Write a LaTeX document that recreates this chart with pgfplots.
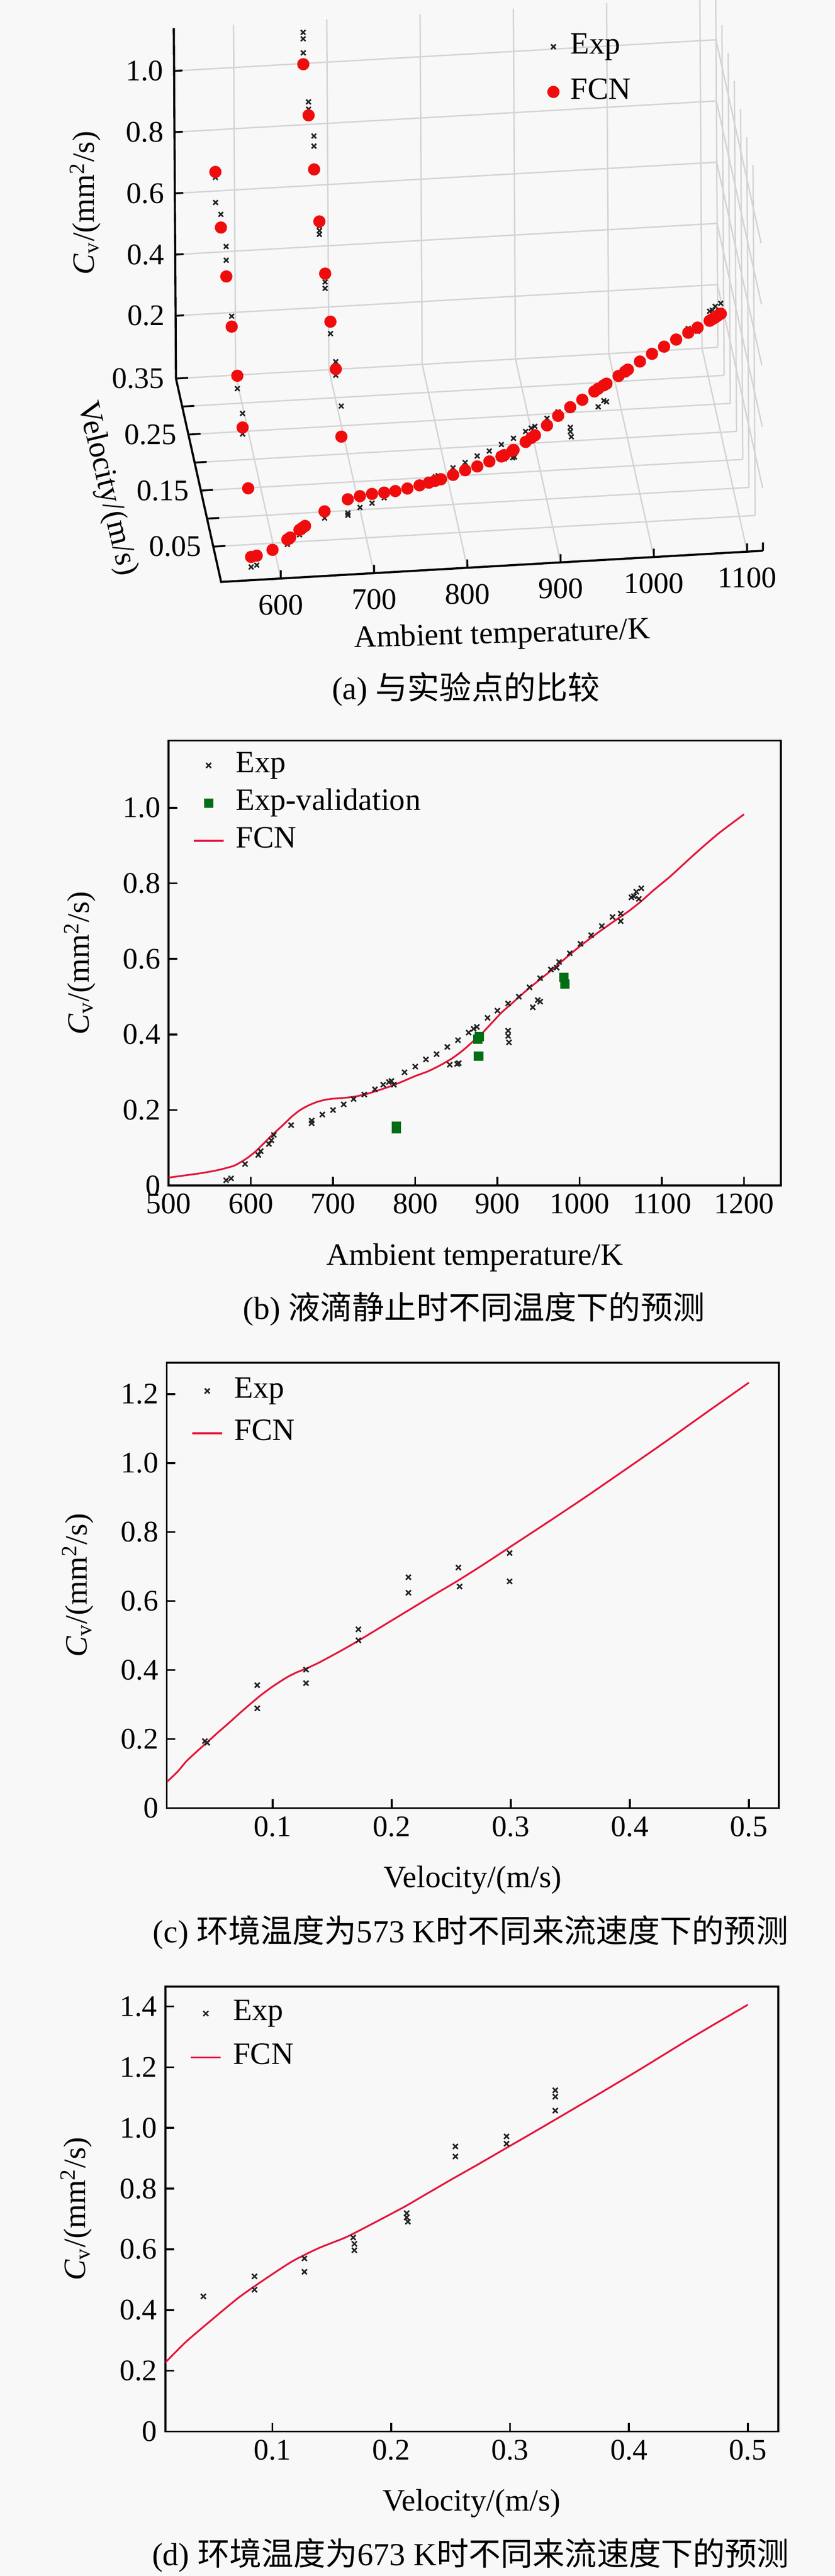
\documentclass[border=0pt]{standalone}
\usepackage{fontspec}
\setmainfont{Liberation Serif}
\newfontfamily\cjk{Noto Sans CJK SC}
\usepackage{pgfplots}
\pgfplotsset{compat=1.18}
\definecolor{fcnred}{RGB}{228,22,60}
\definecolor{dotred}{RGB}{240,12,12}
\definecolor{valgreen}{RGB}{0,110,20}
\definecolor{bg}{RGB}{248,248,248}
\definecolor{expgray}{RGB}{35,35,35}

\pgfplotsset{
  flat/.style={
    scale only axis, anchor=south west,
    axis line style={line width=0.8pt},
    tick style={line width=0.8pt, black},
    major tick length=3.7pt,
    tick align=inside, tick pos=left,
    /pgf/number format/assume math mode=true,
    /pgf/number format/1000 sep={},
    ticklabel style={font=\fontsize{12.7}{14}\selectfont},
    label style={font=\fontsize{13.2}{15}\selectfont},
    xlabel style={at={(axis description cs:0.5,-0.162)}, anchor=center},
    ylabel style={at={(axis description cs:-0.145,0.5)}, anchor=center},
    ylabel={\textit{C}\textsubscript{v}/(mm\textsuperscript{2}/s)},
    legend cell align=left,
    legend image code/.code={\path (0pt,0pt) (17pt,0pt);\draw[mark repeat=2,mark phase=2,##1] plot coordinates {(0pt,0pt) (8.5pt,0pt) (17pt,0pt)};},
  },
  leg/.style n args={3}{legend style={draw=none, fill=none, inner sep=0pt, outer sep=0pt,
    at={(axis description cs:#1,#2)}, anchor=north west,
    font=\fontsize{13.2}{15}\selectfont,
    nodes={inner sep=0pt, text height=9pt, text depth=3pt},
    cells={anchor=west},
    row sep=#3,
    /tikz/every odd column/.append style={column sep=2.7pt}}},
  expx/.style={only marks, mark=x, mark size=1.5pt, expgray, mark options={line width=0.65pt}},
  fcnline/.style={fcnred, line width=0.75pt, smooth, tension=0.4,
    legend image code/.code={\path (0pt,0pt) (17pt,0pt);\draw[##1] (2.15pt,0pt) -- (14.85pt,0pt);}},
}
\tikzset{tk/.style={black, line width=0.8pt}, tl/.style={font=\fontsize{12.7}{14}\selectfont, inner sep=0pt}}

\begin{document}
\begin{tikzpicture}
\useasboundingbox (0,0) rectangle (354.4pt,1094.2pt);
\fill[bg] (0,0) rectangle (354.4pt,1094.2pt);

% ---------------- (a) 3D ----------------
\begin{axis}[
  at={(73.8pt,847pt)}, anchor=south west, clip=false,
  x={(0.396pt,0.0228pt)}, y={(-52.8pt,238pt)}, z={(-0.8pt,130pt)},
  xmin=536, xmax=1117, ymin=-0.013, ymax=0.35, zmin=-0.005, zmax=1.14,
  xtick={600,700,800,900,1000,1100},
  ytick={0.05,0.1,0.15,0.2,0.25,0.3,0.35},
  ztick={0.2,0.4,0.6,0.8,1.0},
  xmajorticks=false, ymajorticks=false, zmajorticks=false,
  grid=major, major grid style={line width=0.6pt, color=black!17},
  axis line style={draw=none},
  legend cell align=left,
  legend image code/.code={\path (0pt,0pt) (11pt,0pt);\draw[mark repeat=2,mark phase=2,#1] plot coordinates {(0pt,0pt) (5.5pt,0pt) (11pt,0pt)};},
  legend style={draw=none, fill=none, inner sep=0pt, outer sep=0pt,
    at={(axis description cs:0.6215,0.939)}, anchor=north west,
    font=\fontsize{13.2}{15}\selectfont,
    nodes={inner sep=0pt, text height=9pt, text depth=3pt},
    cells={anchor=west}, row sep=7.2pt,
    /tikz/every odd column/.append style={column sep=1.5pt}},
]
\addplot3[expx, mark size=1.4pt] coordinates {
(570,0,0.014) (576,0,0.019) (593,0,0.057) (609,0,0.081) (612,0,0.091) (622,0,0.110) (625,0,0.120) (628,0,0.134)
(649,0,0.160) (674,0,0.172) (674,0,0.165) (687,0,0.188) (700,0,0.200) (713,0,0.215) (725,0,0.229) (738,0,0.241)
(751,0,0.255) (761,0,0.267) (768,0,0.274) (771,0,0.277) (774,0,0.267) (787,0,0.300) (800,0,0.315) (813,0,0.334)
(826,0,0.348) (839,0,0.367) (852,0,0.385) (842,0,0.320) (851,0,0.322) (853,0,0.324) (865,0,0.405) (871,0,0.415)
(875,0,0.420) (888,0,0.444) (900,0,0.463) (913,0,0.482) (913,0,0.410) (913,0,0.396) (914,0,0.379) (926,0,0.500)
(939,0,0.525) (943,0,0.472) (949,0,0.491) (952,0,0.487) (952,0,0.549) (965,0,0.572) (972,0,0.577) (975,0,0.592)
(988,0,0.615) (1001,0,0.640) (1014,0,0.663) (1027,0,0.687) (1040,0,0.711) (1050,0,0.720) (1050,0,0.700)
(1063,0,0.763) (1066,0,0.766) (1069,0,0.778) (1075,0,0.787) (1072,0,0.759)
(573,0.043,0.194) (573,0.045,0.189) (573,0.087,0.356) (573,0.087,0.289) (573,0.128,0.401) (573,0.128,0.362)
(573,0.172,0.518) (573,0.172,0.486) (573,0.214,0.669) (573,0.214,0.624) (573,0.256,0.697) (573,0.257,0.642)
(573,0.299,0.739) (573,0.299,0.657)
(673,0.042,0.445) (673,0.085,0.511) (673,0.085,0.467) (673,0.127,0.570) (673,0.127,0.526) (673,0.168,0.639)
(673,0.169,0.618) (673,0.169,0.597) (673,0.213,0.719) (673,0.213,0.705) (673,0.214,0.691) (673,0.254,0.939)
(673,0.254,0.906) (673,0.297,0.972) (673,0.297,0.948) (673,0.338,1.124) (673,0.338,1.103) (673,0.338,1.057)
};
\addlegendentry{Exp}
\addplot3[only marks, mark=*, mark size=2.4pt, dotred, mark options={draw=dotred, fill=dotred}] coordinates {
(570,0,0.047) (576,0,0.050) (593,0,0.066) (609,0,0.097) (612,0,0.103) (622,0,0.126) (625,0,0.132) (628,0,0.138)
(649,0,0.182) (674,0,0.217) (687,0,0.225) (700,0,0.230) (713,0,0.232) (725,0,0.235) (738,0,0.241) (751,0,0.249)
(761,0,0.256) (768,0,0.261) (774,0,0.265) (787,0,0.277) (800,0,0.290) (813,0,0.300) (826,0,0.314) (839,0,0.328)
(842,0,0.332) (851,0,0.345) (852,0,0.347) (865,0,0.371) (871,0,0.383) (875,0,0.391) (888,0,0.421) (900,0,0.450)
(913,0,0.476) (926,0,0.498) (939,0,0.523) (943,0,0.531) (949,0,0.541) (952,0,0.546) (965,0,0.569) (972,0,0.582)
(975,0,0.588) (988,0,0.612) (1001,0,0.635) (1014,0,0.656) (1027,0,0.677) (1040,0,0.697) (1050,0,0.712)
(1063,0,0.732) (1066,0,0.737) (1069,0,0.742) (1072,0,0.748) (1075,0,0.753)
(573,0.044,0.190) (573,0.087,0.310) (573,0.128,0.404) (573,0.172,0.484) (573,0.214,0.571) (573,0.256,0.654) (573,0.299,0.757)
(673,0.042,0.345) (673,0.085,0.487) (673,0.127,0.565) (673,0.168,0.647) (673,0.213,0.735) (673,0.254,0.830) (673,0.297,0.928) (673,0.338,1.020)
};
\addlegendentry{FCN}
% axis lines
\draw[black, line width=0.9pt] (axis cs:1117,-0.013,-0.005) -- (axis cs:536,-0.013,-0.005) -- (axis cs:536,0.35,-0.005) -- (axis cs:536,0.35,1.14);
% x ticks and labels (front edge)
\draw[tk] (axis cs:600,-0.013,-0.005) -- (axis cs:600,-0.013,0.022);
\draw[tk] (axis cs:700,-0.013,-0.005) -- (axis cs:700,-0.013,0.022);
\draw[tk] (axis cs:800,-0.013,-0.005) -- (axis cs:800,-0.013,0.022);
\draw[tk] (axis cs:900,-0.013,-0.005) -- (axis cs:900,-0.013,0.022);
\draw[tk] (axis cs:1000,-0.013,-0.005) -- (axis cs:1000,-0.013,0.022);
\draw[tk] (axis cs:1100,-0.013,-0.005) -- (axis cs:1100,-0.013,0.022);
\draw[tk] (axis cs:1117,-0.013,-0.005) -- (axis cs:1117,-0.013,0.022);
\node[tl, yshift=-11.2pt] at (axis cs:600,-0.013,-0.005) {600};
\node[tl, yshift=-11.2pt] at (axis cs:700,-0.013,-0.005) {700};
\node[tl, yshift=-11.2pt] at (axis cs:800,-0.013,-0.005) {800};
\node[tl, yshift=-11.2pt] at (axis cs:900,-0.013,-0.005) {900};
\node[tl, yshift=-11.2pt] at (axis cs:1000,-0.013,-0.005) {1000};
\node[tl, yshift=-11.2pt] at (axis cs:1100,-0.013,-0.005) {1100};
% velocity ticks and labels (left floor edge)
\draw[tk] (axis cs:536,0.05,-0.005) -- (axis cs:549,0.05,-0.005);
\draw[tk] (axis cs:536,0.10,-0.005) -- (axis cs:549,0.10,-0.005);
\draw[tk] (axis cs:536,0.15,-0.005) -- (axis cs:549,0.15,-0.005);
\draw[tk] (axis cs:536,0.20,-0.005) -- (axis cs:549,0.20,-0.005);
\draw[tk] (axis cs:536,0.25,-0.005) -- (axis cs:549,0.25,-0.005);
\draw[tk] (axis cs:536,0.30,-0.005) -- (axis cs:549,0.30,-0.005);
\draw[tk] (axis cs:536,0.35,-0.005) -- (axis cs:549,0.35,-0.005);
\node[tl, anchor=east, xshift=-4.8pt] at (axis cs:536,0.05,-0.005) {0.05};
\node[tl, anchor=east, xshift=-4.8pt] at (axis cs:536,0.15,-0.005) {0.15};
\node[tl, anchor=east, xshift=-4.8pt] at (axis cs:536,0.25,-0.005) {0.25};
\node[tl, anchor=east, xshift=-4.8pt] at (axis cs:536,0.35,-0.005) {0.35};
% Cv ticks and labels (back-left vertical edge)
\draw[tk] (axis cs:536,0.35,0.2) -- (axis cs:545,0.35,0.2);
\draw[tk] (axis cs:536,0.35,0.4) -- (axis cs:545,0.35,0.4);
\draw[tk] (axis cs:536,0.35,0.6) -- (axis cs:545,0.35,0.6);
\draw[tk] (axis cs:536,0.35,0.8) -- (axis cs:545,0.35,0.8);
\draw[tk] (axis cs:536,0.35,1.0) -- (axis cs:545,0.35,1.0);
\node[tl, anchor=east, xshift=-4.4pt] at (axis cs:536,0.35,0.2) {0.2};
\node[tl, anchor=east, xshift=-4.4pt] at (axis cs:536,0.35,0.4) {0.4};
\node[tl, anchor=east, xshift=-4.4pt] at (axis cs:536,0.35,0.6) {0.6};
\node[tl, anchor=east, xshift=-4.4pt] at (axis cs:536,0.35,0.8) {0.8};
\node[tl, anchor=east, xshift=-4.4pt] at (axis cs:536,0.35,1.0) {1.0};
\end{axis}
\node[rotate=90, font=\fontsize{13.2}{15}\selectfont] at (36.2pt,1008pt) {\textit{C}\textsubscript{v}/(mm\textsuperscript{2}/s)};
\node[rotate=-76.5, font=\fontsize{13.2}{15}\selectfont] at (45.2pt,886.6pt) {Velocity/(m/s)};
\node[rotate=1.7, font=\fontsize{13.2}{15}\selectfont] at (213.2pt,824.2pt) {Ambient temperature/K};
\node[font=\fontsize{13.6}{16}\selectfont] at (197.8pt,801.4pt) {(a) {\cjk 与实验点的比较}};

% ---------------- (b) ----------------
\begin{axis}[flat,
  at={(71.6pt,590.6pt)}, width=260pt, height=189pt,
  xmin=500, xmax=1245, ymin=0, ymax=1.178,
  xtick={500,600,700,800,900,1000,1100,1200},
  ytick={0,0.2,0.4,0.6,0.8,1.0}, yticklabels={0,0.2,0.4,0.6,0.8,1.0},
  xlabel={Ambient temperature/K},
  leg={0.0312}{0.976}{4pt},
]
\addplot[expx] coordinates {
(570,0.014) (576,0.019) (593,0.057) (609,0.081) (612,0.091) (622,0.110) (625,0.120) (628,0.134)
(649,0.160) (674,0.172) (674,0.165) (687,0.188) (700,0.200) (713,0.215) (725,0.229) (738,0.241)
(751,0.255) (761,0.267) (768,0.274) (771,0.277) (774,0.267) (787,0.300) (800,0.315) (813,0.334)
(826,0.348) (839,0.367) (852,0.385) (842,0.320) (851,0.322) (853,0.324) (865,0.405) (871,0.415)
(875,0.420) (888,0.444) (900,0.463) (913,0.482) (913,0.410) (913,0.396) (914,0.379) (926,0.500)
(939,0.525) (943,0.472) (949,0.491) (952,0.487) (952,0.549) (965,0.572) (972,0.577) (975,0.592)
(988,0.615) (1001,0.640) (1014,0.663) (1027,0.687) (1040,0.711) (1050,0.720) (1050,0.700)
(1063,0.763) (1066,0.766) (1069,0.778) (1075,0.787) (1072,0.759)
};
\addlegendentry{Exp}
\addplot[only marks, mark=square*, mark size=1.8pt, valgreen, mark options={draw=valgreen, fill=valgreen}] coordinates {
(777,0.157) (777,0.150) (876,0.388) (878,0.394) (877,0.343) (981,0.551) (982,0.534)
};
\addlegendentry{Exp-validation}
\addplot[fcnline] coordinates {
(500,0.021) (520,0.027) (540,0.033) (560,0.041) (580,0.053) (595,0.072) (605,0.089) (615,0.110)
(625,0.132) (638,0.158) (650,0.183) (660,0.200) (670,0.212) (680,0.221) (690,0.227) (700,0.230)
(712,0.232) (725,0.235) (740,0.242) (755,0.252) (770,0.263) (785,0.276) (800,0.290) (815,0.302)
(830,0.318) (845,0.337) (858,0.358) (870,0.381) (880,0.400) (892,0.428) (905,0.458) (920,0.487)
(936,0.518) (952,0.546) (969,0.576) (985,0.606) (1000,0.633) (1020,0.666) (1040,0.697) (1060,0.727)
(1075,0.753) (1090,0.782) (1110,0.818) (1131,0.860) (1150,0.897) (1170,0.934) (1200,0.983)
};
\addlegendentry{FCN}
\end{axis}
\node[font=\fontsize{13.6}{16}\selectfont] at (201.2pt,538.2pt) {(b) {\cjk 液滴静止时不同温度下的预测}};

% ---------------- (c) ----------------
\begin{axis}[flat,
  at={(70.8pt,326.2pt)}, width=259.8pt, height=189.2pt,
  xmin=0.011, xmax=0.525, ymin=0, ymax=1.291,
  xtick={0.1,0.2,0.3,0.4,0.5}, xticklabels={0.1,0.2,0.3,0.4,0.5},
  ytick={0,0.2,0.4,0.6,0.8,1.0,1.2}, yticklabels={0,0.2,0.4,0.6,0.8,1.0,1.2},
  xlabel={Velocity/(m/s)},
  leg={0.032}{0.968}{6pt},
]
\addplot[expx] coordinates {
(0.043,0.194) (0.045,0.189) (0.087,0.356) (0.087,0.289) (0.128,0.401) (0.128,0.362)
(0.172,0.518) (0.172,0.486) (0.214,0.669) (0.214,0.624) (0.256,0.697) (0.257,0.642)
(0.299,0.739) (0.299,0.657)
};
\addlegendentry{Exp}
\addplot[fcnline] coordinates {
(0.011,0.0755) (0.020,0.105) (0.0276,0.136) (0.036,0.163) (0.045,0.191) (0.054,0.219) (0.063,0.246)
(0.072,0.274) (0.081,0.301) (0.090,0.327) (0.099,0.350) (0.106,0.366) (0.1125,0.380) (0.120,0.393)
(0.128,0.404) (0.138,0.420) (0.150,0.442) (0.161,0.463) (0.172,0.485) (0.193,0.529) (0.214,0.573)
(0.235,0.617) (0.256,0.660) (0.278,0.708) (0.300,0.758) (0.330,0.826) (0.363,0.902) (0.400,0.990)
(0.430,1.062) (0.465,1.148) (0.500,1.233)
};
\addlegendentry{FCN}
\end{axis}
\node[font=\fontsize{13.6}{16}\selectfont] at (199.8pt,273.4pt) {(c) {\cjk 环境温度为}573 K{\cjk 时不同来流速度下的预测}};

% ---------------- (d) ----------------
\begin{axis}[flat,
  at={(70.2pt,61.4pt)}, width=260.2pt, height=189pt,
  xmin=0.010, xmax=0.5255, ymin=0, ymax=1.466,
  xtick={0.1,0.2,0.3,0.4,0.5}, xticklabels={0.1,0.2,0.3,0.4,0.5},
  ytick={0,0.2,0.4,0.6,0.8,1.0,1.2,1.4}, yticklabels={0,0.2,0.4,0.6,0.8,1.0,1.2,1.4},
  xlabel={Velocity/(m/s)},
  leg={0.032}{0.971}{6.6pt},
]
\addplot[expx] coordinates {
(0.042,0.445) (0.085,0.511) (0.085,0.467) (0.127,0.570) (0.127,0.526) (0.168,0.639)
(0.169,0.618) (0.169,0.597) (0.213,0.719) (0.213,0.705) (0.214,0.691) (0.254,0.939)
(0.254,0.906) (0.297,0.972) (0.297,0.948) (0.338,1.124) (0.338,1.103) (0.338,1.057)
};
\addlegendentry{Exp}
\addplot[fcnline] coordinates {
(0.010,0.227) (0.027,0.294) (0.050,0.371) (0.072,0.442) (0.095,0.505) (0.117,0.561) (0.139,0.604)
(0.162,0.640) (0.184,0.684) (0.211,0.740) (0.229,0.781) (0.251,0.831) (0.274,0.882) (0.296,0.932)
(0.319,0.984) (0.363,1.085) (0.408,1.190) (0.453,1.298) (0.500,1.406)
};
\addlegendentry{FCN}
\end{axis}
\node[font=\fontsize{13.6}{16}\selectfont] at (199.8pt,8.8pt) {(d) {\cjk 环境温度为}673 K{\cjk 时不同来流速度下的预测}};
\end{tikzpicture}
\end{document}
